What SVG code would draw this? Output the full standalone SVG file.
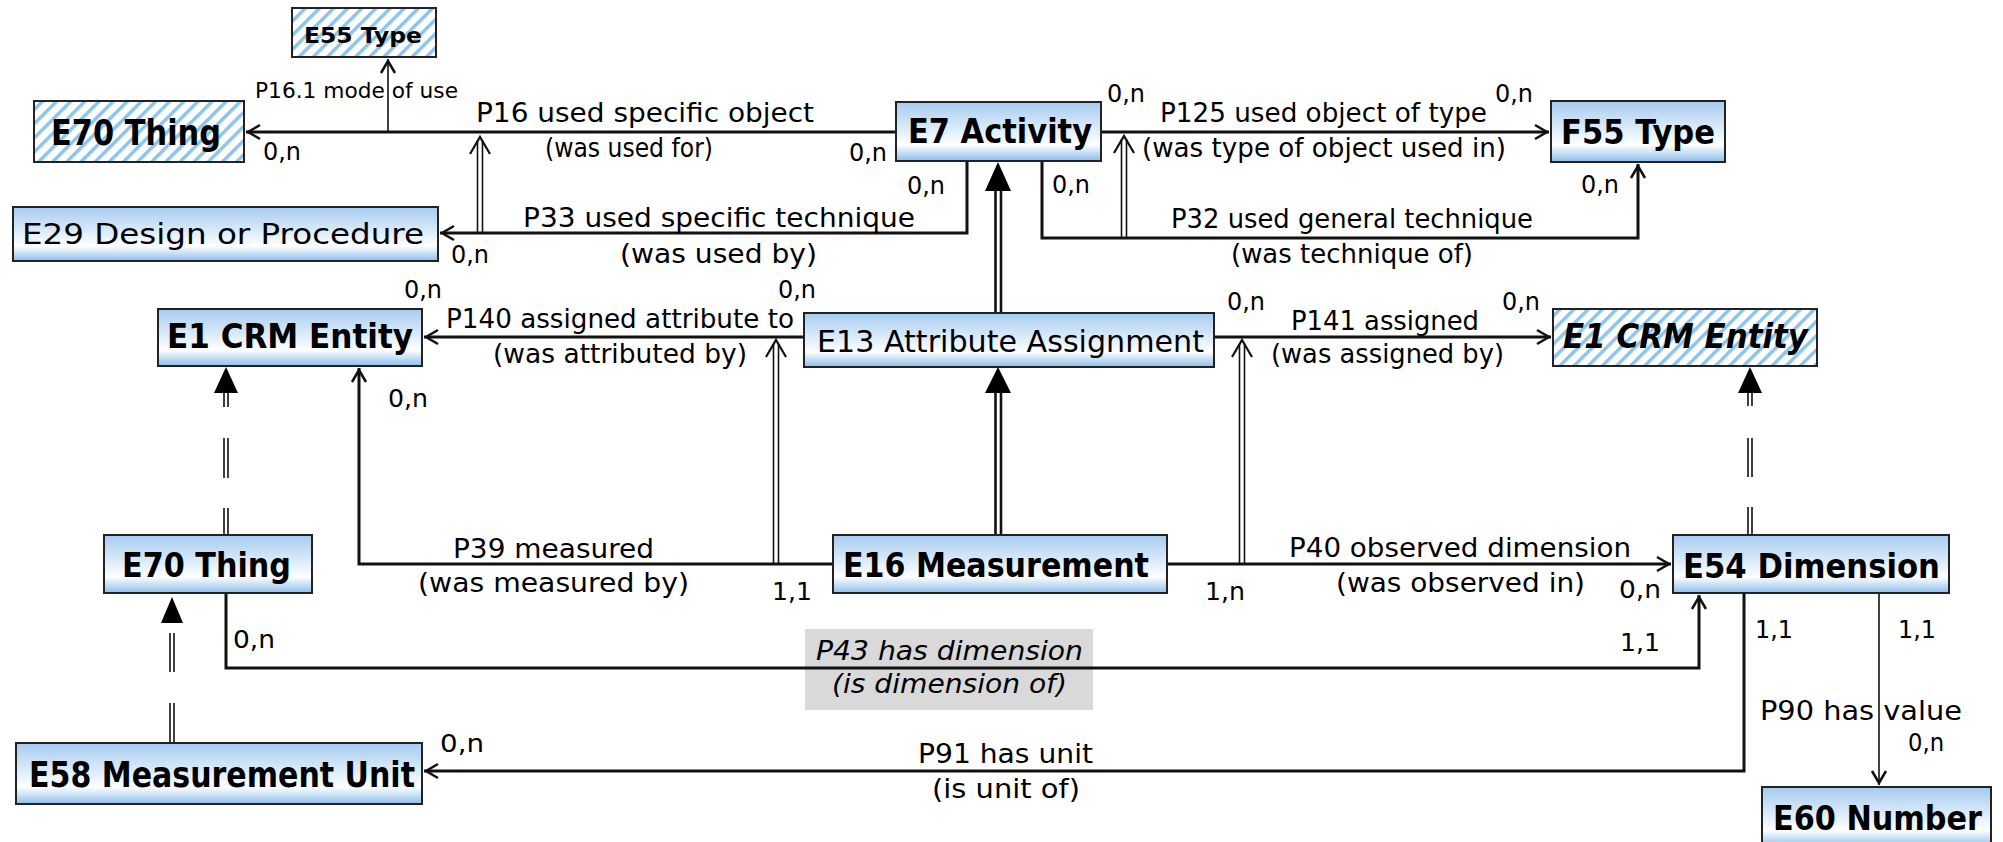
<svg xmlns="http://www.w3.org/2000/svg" width="2003" height="842" viewBox="0 0 2003 842">
<defs>
<linearGradient id="gb" x1="0" y1="0" x2="0" y2="1">
<stop offset="0" stop-color="#a6cbef"/>
<stop offset="0.6" stop-color="#eef6fe"/>
<stop offset="0.72" stop-color="#ffffff"/>
<stop offset="1" stop-color="#8cbeeb"/>
</linearGradient>
<pattern id="hatch" patternUnits="userSpaceOnUse" width="10" height="10" patternTransform="rotate(45)">
<rect width="10" height="10" fill="#ffffff"/>
<rect width="3.5" height="10" fill="#8ec3ea"/>
</pattern>
<marker id="arr" markerUnits="userSpaceOnUse" markerWidth="24" markerHeight="24" viewBox="-20 -12 24 24" refX="0" refY="0" orient="auto">
<path d="M-14,-7 L-2,0 L-14,7" fill="none" stroke="#111" stroke-width="2.5"/>
</marker>
<style>
.box{fill:url(#gb);stroke:#222;stroke-width:2}
.hb{fill:url(#hatch);stroke:#222;stroke-width:2}
.nt{font-family:"DejaVu Sans",Verdana,sans-serif;font-weight:bold;fill:#000}
.nr{font-family:"DejaVu Sans",Verdana,sans-serif;fill:#000}
.lb{font-family:"DejaVu Sans",Verdana,sans-serif;font-size:26px;fill:#000}
.cd{font-family:"DejaVu Sans",Verdana,sans-serif;font-size:24px;fill:#000}
.ln{fill:none;stroke:#111;stroke-width:3}
.thin{fill:none;stroke:#111;stroke-width:1.6}
.dbl{fill:none;stroke:#111;stroke-width:1.6}
.thk{fill:none;stroke:#111;stroke-width:2.6}
.tri{fill:#000}
.chev{fill:none;stroke:#111;stroke-width:2.2}
</style>
</defs>
<rect width="2003" height="842" fill="#ffffff"/>

<g id="connectors">
<path class="ln" d="M896,132 H246" marker-end="url(#arr)"/>
<path class="thin" d="M388,132 V59" marker-end="url(#arr)"/>
<path class="ln" d="M967,161 V233 H440" marker-end="url(#arr)"/>
<path class="dbl" d="M477.5,233 V141 M482.5,233 V141"/>
<path class="chev" d="M470,154 L480,137 L490,154"/>
<path class="ln" d="M1101,132 H1549" marker-end="url(#arr)"/>
<path class="ln" d="M1042,161 V238 H1638 V164" marker-end="url(#arr)"/>
<path class="dbl" d="M1121.5,238 V139 M1126.5,238 V139"/>
<path class="chev" d="M1114,153 L1124,136 L1134,153"/>
<path class="thk" d="M995.5,313 V189 M1001,313 V189"/>
<polygon class="tri" points="998,162 985,191 1011,191"/>
<path class="ln" d="M804,337 H424" marker-end="url(#arr)"/>
<path class="ln" d="M1214,337 H1551" marker-end="url(#arr)"/>
<path class="thk" d="M995.5,535 V391 M1001,535 V391"/>
<polygon class="tri" points="998,367 985,393 1011,393"/>
<path class="ln" d="M833,564 H359 V368" marker-end="url(#arr)"/>
<path class="dbl" d="M773.5,564 V344 M778.5,564 V344"/>
<path class="chev" d="M766,357 L776,340 L786,357"/>
<path class="ln" d="M1167,564 H1671" marker-end="url(#arr)"/>
<path class="dbl" d="M1239.5,564 V344 M1244.5,564 V344"/>
<path class="chev" d="M1232,357 L1242,340 L1252,357"/>
<path class="dbl" d="M224,392 V407 M228,392 V407 M224,438 V478 M228,438 V478 M224,508 V535 M228,508 V535"/>
<polygon class="tri" points="226,367 214,393 238,393"/>
<path class="dbl" d="M1748,392 V406 M1752,392 V406 M1748,438 V477 M1752,438 V477 M1748,507 V535 M1752,507 V535"/>
<polygon class="tri" points="1750,367 1738,393 1762,393"/>
<path class="dbl" d="M170,633 V672 M174,633 V672 M170,703 V743 M174,703 V743"/>
<polygon class="tri" points="172,597 161,623 183,623"/>
<rect x="805" y="629" width="288" height="81" fill="#d9d9d9"/>
<path class="ln" d="M226,593 V668 H1699 V595" marker-end="url(#arr)"/>
<path class="ln" d="M1744,593 V771 H424" marker-end="url(#arr)"/>
<path class="thin" d="M1879,593 V785" stroke-width="2" marker-end="url(#arr)"/>

<text class="nr" x="255" y="98" font-size="21" textLength="203" lengthAdjust="spacingAndGlyphs">P16.1 mode of use</text>
<text class="lb" x="476" y="122" textLength="338" lengthAdjust="spacingAndGlyphs">P16 used specific object</text>
<text class="lb" x="545" y="157" textLength="168" lengthAdjust="spacingAndGlyphs">(was used for)</text>
<text class="cd" x="263" y="160" textLength="38" lengthAdjust="spacingAndGlyphs">0,n</text>
<text class="cd" x="849" y="161" textLength="38" lengthAdjust="spacingAndGlyphs">0,n</text>
<text class="lb" x="523" y="227" textLength="392" lengthAdjust="spacingAndGlyphs">P33 used specific technique</text>
<text class="lb" x="620" y="263" textLength="197" lengthAdjust="spacingAndGlyphs">(was used by)</text>
<text class="cd" x="451" y="263" textLength="38" lengthAdjust="spacingAndGlyphs">0,n</text>
<text class="cd" x="907" y="194" textLength="38" lengthAdjust="spacingAndGlyphs">0,n</text>
<text class="cd" x="1107" y="102" textLength="38" lengthAdjust="spacingAndGlyphs">0,n</text>
<text class="lb" x="1160" y="122" textLength="327" lengthAdjust="spacingAndGlyphs">P125 used object of type</text>
<text class="lb" x="1142" y="157" textLength="364" lengthAdjust="spacingAndGlyphs">(was type of object used in)</text>
<text class="cd" x="1495" y="102" textLength="38" lengthAdjust="spacingAndGlyphs">0,n</text>
<text class="cd" x="1052" y="193" textLength="38" lengthAdjust="spacingAndGlyphs">0,n</text>
<text class="lb" x="1171" y="228" textLength="362" lengthAdjust="spacingAndGlyphs">P32 used general technique</text>
<text class="lb" x="1231" y="263" textLength="242" lengthAdjust="spacingAndGlyphs">(was technique of)</text>
<text class="cd" x="1581" y="193" textLength="38" lengthAdjust="spacingAndGlyphs">0,n</text>
<text class="cd" x="404" y="298" textLength="38" lengthAdjust="spacingAndGlyphs">0,n</text>
<text class="cd" x="778" y="298" textLength="38" lengthAdjust="spacingAndGlyphs">0,n</text>
<text class="lb" x="446" y="328" textLength="348" lengthAdjust="spacingAndGlyphs">P140 assigned attribute to</text>
<text class="lb" x="493" y="363" textLength="254" lengthAdjust="spacingAndGlyphs">(was attributed by)</text>
<text class="cd" x="1227" y="310" textLength="38" lengthAdjust="spacingAndGlyphs">0,n</text>
<text class="lb" x="1291" y="330" textLength="188" lengthAdjust="spacingAndGlyphs">P141 assigned</text>
<text class="lb" x="1271" y="363" textLength="233" lengthAdjust="spacingAndGlyphs">(was assigned by)</text>
<text class="cd" x="1502" y="310" textLength="38" lengthAdjust="spacingAndGlyphs">0,n</text>
<text class="cd" x="388" y="407" textLength="40" lengthAdjust="spacingAndGlyphs">0,n</text>
<text class="lb" x="453" y="558" textLength="201" lengthAdjust="spacingAndGlyphs">P39 measured</text>
<text class="lb" x="418" y="592" textLength="271" lengthAdjust="spacingAndGlyphs">(was measured by)</text>
<text class="cd" x="772" y="600" textLength="40" lengthAdjust="spacingAndGlyphs">1,1</text>
<text class="lb" x="1289" y="557" textLength="342" lengthAdjust="spacingAndGlyphs">P40 observed dimension</text>
<text class="lb" x="1336" y="592" textLength="249" lengthAdjust="spacingAndGlyphs">(was observed in)</text>
<text class="cd" x="1205" y="600" textLength="40" lengthAdjust="spacingAndGlyphs">1,n</text>
<text class="cd" x="1619" y="598" textLength="42" lengthAdjust="spacingAndGlyphs">0,n</text>
<text class="cd" x="233" y="648" textLength="42" lengthAdjust="spacingAndGlyphs">0,n</text>
<text class="cd" x="1620" y="651" textLength="40" lengthAdjust="spacingAndGlyphs">1,1</text>
<text class="lb" x="816" y="660" font-style="italic" fill="#222" textLength="267" lengthAdjust="spacingAndGlyphs">P43 has dimension</text>
<text class="lb" x="832" y="693" font-style="italic" fill="#222" textLength="235" lengthAdjust="spacingAndGlyphs">(is dimension of)</text>
<text class="cd" x="440" y="752" textLength="44" lengthAdjust="spacingAndGlyphs">0,n</text>
<text class="lb" x="918" y="763" textLength="175" lengthAdjust="spacingAndGlyphs">P91 has unit</text>
<text class="lb" x="932" y="798" textLength="148" lengthAdjust="spacingAndGlyphs">(is unit of)</text>
<text class="cd" x="1755" y="638" textLength="38" lengthAdjust="spacingAndGlyphs">1,1</text>
<text class="cd" x="1898" y="638" textLength="38" lengthAdjust="spacingAndGlyphs">1,1</text>
<text class="lb" x="1760" y="720" textLength="202" lengthAdjust="spacingAndGlyphs">P90 has value</text>
<text class="cd" x="1908" y="751" textLength="36" lengthAdjust="spacingAndGlyphs">0,n</text>
</g>

<g id="E55_Type"><rect class="hb" x="292" y="8" width="144" height="49"/><text class="nt" x="304" y="43" font-size="22" textLength="118" lengthAdjust="spacingAndGlyphs">E55 Type</text></g>
<g id="E70_Thing_top"><rect class="hb" x="34" y="101" width="210" height="61"/><text class="nt" x="51" y="145" font-size="35" textLength="170" lengthAdjust="spacingAndGlyphs">E70 Thing</text></g>
<g id="E29_Design_or_Procedure"><rect class="box" x="13" y="207" width="425" height="54"/><text class="nr" x="22" y="244" font-size="29" textLength="402" lengthAdjust="spacingAndGlyphs">E29 Design or Procedure</text></g>
<g id="E7_Activity"><rect class="box" x="896" y="102" width="205" height="59"/><text class="nt" x="908" y="143" font-size="33" textLength="184" lengthAdjust="spacingAndGlyphs">E7 Activity</text></g>
<g id="F55_Type"><rect class="box" x="1551" y="101" width="174" height="61"/><text class="nt" x="1561" y="144" font-size="33" textLength="154" lengthAdjust="spacingAndGlyphs">F55 Type</text></g>
<g id="E1_CRM_Entity_left"><rect class="box" x="158" y="309" width="264" height="57"/><text class="nt" x="167" y="348" font-size="33" textLength="246" lengthAdjust="spacingAndGlyphs">E1 CRM Entity</text></g>
<g id="E13_Attribute_Assignment"><rect class="box" x="804" y="313" width="410" height="54"/><text class="nr" x="817" y="352" font-size="30" textLength="387" lengthAdjust="spacingAndGlyphs">E13 Attribute Assignment</text></g>
<g id="E1_CRM_Entity_right"><rect class="hb" x="1553" y="309" width="264" height="57"/><text class="nt" x="1563" y="348" font-size="33" font-style="italic" textLength="245" lengthAdjust="spacingAndGlyphs">E1 CRM Entity</text></g>
<g id="E70_Thing_mid"><rect class="box" x="104" y="535" width="208" height="58"/><text class="nt" x="122" y="577" font-size="34" textLength="169" lengthAdjust="spacingAndGlyphs">E70 Thing</text></g>
<g id="E16_Measurement"><rect class="box" x="833" y="535" width="334" height="58"/><text class="nt" x="843" y="577" font-size="34" textLength="306" lengthAdjust="spacingAndGlyphs">E16 Measurement</text></g>
<g id="E54_Dimension"><rect class="box" x="1673" y="535" width="276" height="58"/><text class="nt" x="1683" y="578" font-size="33" textLength="257" lengthAdjust="spacingAndGlyphs">E54 Dimension</text></g>
<g id="E58_Measurement_Unit"><rect class="box" x="16" y="743" width="406" height="61"/><text class="nt" x="29" y="787" font-size="35" textLength="386" lengthAdjust="spacingAndGlyphs">E58 Measurement Unit</text></g>
<g id="E60_Number"><rect class="box" x="1762" y="787" width="229" height="60"/><text class="nt" x="1773" y="830" font-size="33" textLength="209" lengthAdjust="spacingAndGlyphs">E60 Number</text></g>
</svg>
